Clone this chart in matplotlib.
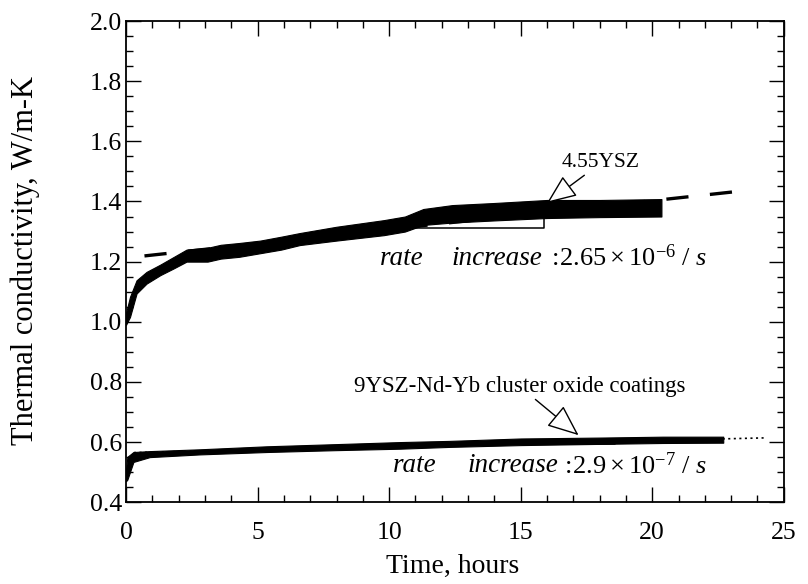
import matplotlib
matplotlib.use('Agg')
import matplotlib.pyplot as plt
from matplotlib.ticker import MultipleLocator

plt.rcParams['font.family'] = ['Liberation Serif', 'DejaVu Serif']
plt.rcParams['mathtext.fontset'] = 'custom'
plt.rcParams['mathtext.rm'] = 'Liberation Serif'
plt.rcParams['mathtext.it'] = 'Liberation Serif:italic'
plt.rcParams['lines.scale_dashes'] = False

# 4.55YSZ band (time in hours, lower / upper edge of the noisy trace)
t_455 = [0.0, 0.15, 0.4, 0.78, 1.3, 1.8, 2.3, 3.1, 3.6, 4.3, 5.1, 5.9, 6.6,
         8.0, 9.8, 10.6, 11.3, 12.4, 14.0, 16.0, 18.0, 20.35]
lo_455 = [0.99, 1.016, 1.094, 1.127, 1.155, 1.177, 1.2, 1.2, 1.21, 1.216, 1.228,
          1.24, 1.255, 1.27, 1.288, 1.30, 1.322, 1.33, 1.337, 1.345, 1.348, 1.35]
hi_455 = [1.03, 1.083, 1.138, 1.166, 1.19, 1.215, 1.24, 1.246, 1.256, 1.262, 1.27,
          1.283, 1.295, 1.316, 1.338, 1.35, 1.375, 1.388, 1.395, 1.405, 1.405, 1.408]

# 9YSZ-Nd-Yb band
t_9 = [0.0, 0.05, 0.28, 0.9, 2.8, 5.35, 7.9, 10.4, 12.3, 15.0, 18.0, 20.4, 22.7]
lo_9 = [0.47, 0.475, 0.534, 0.55, 0.559, 0.567, 0.573, 0.578, 0.584, 0.59,
        0.594, 0.597, 0.598]
hi_9 = [0.51, 0.551, 0.567, 0.57, 0.576, 0.586, 0.593, 0.60, 0.604, 0.612,
        0.615, 0.618, 0.618]

# linear fits
fit_455_t = [0.7, 23.2]
fit_455_k = [1.219, 1.433]
fit_9_t = [0.3, 24.3]
fit_9_k = [0.565, 0.614]

# slope brackets
br_455_t = [10.9, 15.9, 15.9]
br_455_k = [1.311, 1.311, 1.345]
br_9_t = [15.5, 18.6, 18.6]
br_9_k = [0.593, 0.593, 0.600]

# rate labels: pieces and their start times
rate_words = ['rate', 'increase']
rate1_x = [9.64, 12.37, 16.05]
rate2_x = [10.15, 12.97, 16.55]
rate1_val = r'$:\!2.65\times 10^{-6}\ /\ s$'
rate2_val = r'$:\!2.9\times 10^{-7}\ /\ s$'

fig = plt.figure(figsize=(8.08, 5.84), dpi=100)
ax = fig.add_axes([0.156, 0.140, 0.814, 0.824])

ax.plot(fit_455_t, fit_455_k, color='black', lw=2.4, dashes=(16, 15.5), zorder=1)
ax.plot(fit_9_t, fit_9_k, color='black', lw=1.2, dashes=(1.5, 2.5), zorder=1)

ax.fill_between(t_455, lo_455, hi_455, color='black', lw=0.8, edgecolor='black', zorder=2)
ax.fill_between(t_9, lo_9, hi_9, color='black', lw=0.8, edgecolor='black', zorder=2)

ax.plot(br_455_t, br_455_k, color='black', lw=1.1, zorder=3)
ax.plot(br_9_t, br_9_k, color='black', lw=1.1, zorder=3)

arrow = dict(arrowstyle='-|>,head_length=1.2,head_width=0.5', fc='white',
             ec='black', lw=1.0, shrinkA=0, shrinkB=0)
ax.annotate('4.55YSZ', xy=(16.0, 1.395), xytext=(18.05, 1.528), fontsize=15.5,
            ha='center', va='center', arrowprops=arrow, zorder=4)
ax.annotate('9YSZ-Nd-Yb cluster oxide coatings', xy=(17.2, 0.623),
            xytext=(14.95, 0.786), fontsize=16.5, ha='center', va='center',
            arrowprops=arrow, zorder=4)

for xs, yv, val in [(rate1_x, 1.212, rate1_val), (rate2_x, 0.523, rate2_val)]:
    ax.text(xs[0], yv, rate_words[0], fontsize=19.5, style='italic', ha='left', va='center')
    ax.text(xs[1], yv, rate_words[1], fontsize=19.5, style='italic', ha='left', va='center')
    ax.text(xs[2], yv, val, fontsize=19, ha='left', va='center')

ax.set_xlim(0, 25)
ax.set_ylim(0.4, 2.0)
ax.xaxis.set_major_locator(MultipleLocator(5))
ax.xaxis.set_minor_locator(MultipleLocator(1))
ax.yaxis.set_major_locator(MultipleLocator(0.2))
ax.yaxis.set_minor_locator(MultipleLocator(0.05))
ax.yaxis.set_major_formatter(plt.FormatStrFormatter('%.1f'))
ax.tick_params(which='both', direction='in', top=True, right=True, width=1,
               labelsize=18.5)
ax.tick_params(axis='x', pad=14)
ax.tick_params(axis='y', pad=3)
ax.tick_params(which='major', length=11)
ax.tick_params(which='minor', length=5)
for s in ax.spines.values():
    s.set_linewidth(1.3)

ax.set_xlabel('Time, hours', fontsize=20)
ax.set_ylabel('Thermal conductivity, W/m-K', fontsize=22)
ax.xaxis.set_label_coords(0.497, -0.108)
ax.yaxis.set_label_coords(-0.131, 0.503)

fig.savefig('out.png', dpi=100)
